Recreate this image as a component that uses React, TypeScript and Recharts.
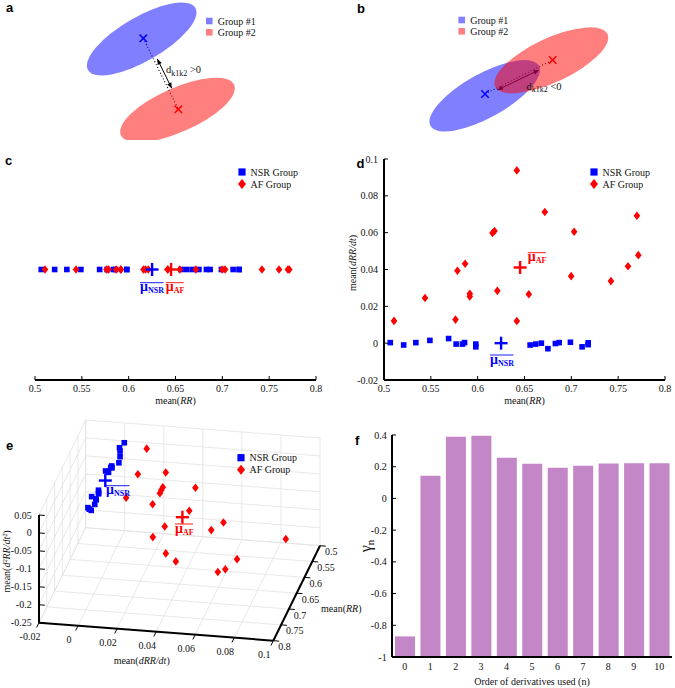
import React from 'react';
import { ScatterChart, Scatter, XAxis, YAxis, ReferenceLine, BarChart, Bar } from 'recharts';

const SERIF = "'Liberation Serif', 'Times New Roman', Times, serif";
const SANS = "'Liberation Sans', Arial, Helvetica, sans-serif";
const BLUE = '#0000ff';
const RED = '#ff0000';
const LBLUE = '#8080ff';
const LRED = '#ff8080';
const BAR_COLOR = '#c386c6';
const AXIS_LINE = { stroke: '#000', strokeWidth: 2 };

// ---------------- data ----------------
const nsrRR = [0.5067, 0.521, 0.534, 0.549, 0.569, 0.577, 0.5837, 0.586, 0.598, 0.598, 0.656, 0.662, 0.668, 0.675, 0.683, 0.687, 0.699, 0.7115, 0.718, 0.718];
const nsrDRR = [0.0003, -0.001, 0.0003, 0.0015, 0.0025, -0.0005, -0.0005, 0.0003, -0.0005, -0.002, -0.001, -0.0005, 0, -0.003, -0.0002, 0.0003, 0.0005, -0.002, -0.0008, 0.0002];
const nsrD2RR = [0.001, -0.001, 0.002, 0.0, 0.001, -0.002, 0.0, 0.001, -0.001, 0.002, 0.0, -0.001, 0.001, -0.002, 0.0, 0.001, -0.001, 0.0, 0.002, -0.001];

const afRR = [0.5107, 0.5438, 0.5763, 0.5784, 0.5866, 0.5916, 0.5916, 0.6158, 0.618, 0.621, 0.6418, 0.6418, 0.6546, 0.6717, 0.6998, 0.703, 0.7423, 0.7605, 0.77, 0.7715];
const afDRR = [0.0121, 0.0245, 0.0128, 0.0393, 0.0431, 0.0268, 0.0253, 0.0598, 0.0609, 0.0284, 0.0938, 0.012, 0.0266, 0.0712, 0.0364, 0.0605, 0.0337, 0.0418, 0.0692, 0.0478];
const afD2RR = [-0.007, -0.039, -0.02, -0.109, -0.036, -0.037, -0.054, -0.1, -0.228, -0.018, -0.109, -0.028, -0.029, -0.148, -0.047, -0.044, -0.04, -0.066, -0.098, -0.076];

const nsrMean = { rr: 0.625, drr: 0, d2rr: 0 };
const afMean = { rr: 0.6453, drr: 0.0411, d2rr: -0.067 };

const derivOrders = ['0', '1', '2', '3', '4', '5', '6', '7', '8', '9', '10'];
const gammaValues = [-0.87, 0.143, 0.389, 0.395, 0.256, 0.218, 0.193, 0.206, 0.221, 0.222, 0.222];
const GAMMA_FLOOR = -1;

const rrTicks = [0.5, 0.55, 0.6, 0.65, 0.7, 0.75, 0.8];
const drrTicks = [-0.02, 0, 0.02, 0.04, 0.06, 0.08, 0.1];
const gammaTicks = [-1, -0.8, -0.6, -0.4, -0.2, 0, 0.2, 0.4];
const eDrrTicks = [-0.02, 0, 0.02, 0.04, 0.06, 0.08, 0.1];
const eRrTicks = [0.5, 0.55, 0.6, 0.65, 0.7, 0.75, 0.8];
const eZTicks = [-0.25, -0.2, -0.15, -0.1, -0.05, 0, 0.05];

// schematic panels a/b (abstract feature-space units)
const ellipsesA = [
  { x: 141.7, y: 39, rx: 62, ry: 22, tilt: 30, group: 1 },
  { x: 177.5, y: 110, rx: 62, ry: 22, tilt: 24, group: 2 },
];
const centersA = [
  { x: 143.3, y: 38.3, group: 1 },
  { x: 178.3, y: 109.3, group: 2 },
];
const distA = [{ x: 157.3, y: 59 }, { x: 171.7, y: 88.3 }];

const ellipsesB = [
  { x: 149.7, y: 95.8, rx: 62, ry: 22, tilt: 29, group: 1 },
  { x: 216.3, y: 60.3, rx: 62, ry: 22, tilt: 25, group: 2 },
];
const centersB = [
  { x: 150, y: 94, group: 1 },
  { x: 217.7, y: 60, group: 2 },
];
const distB = [{ x: 162.3, y: 90 }, { x: 204, y: 70 }];

// ---------------- helpers ----------------
const fmt = (v: any) => (typeof v === 'number' ? String(Math.round(v * 1000) / 1000) : String(v));

const sq = (color: string, s = 5.6) => (p: any) =>
  p.cx == null ? <g /> : <rect x={p.cx - s / 2} y={p.cy - s / 2} width={s} height={s} fill={color} />;
const dia = (color: string, hw = 3.3, hh = 4.3) => (p: any) =>
  p.cx == null ? <g /> : (
    <polygon points={`${p.cx},${p.cy - hh} ${p.cx + hw},${p.cy} ${p.cx},${p.cy + hh} ${p.cx - hw},${p.cy}`} fill={color} />
  );
const plus = (color: string, h = 6.5) => (p: any) =>
  p.cx == null ? <g /> : (
    <g stroke={color} strokeWidth={2.4}>
      <line x1={p.cx - h} x2={p.cx + h} y1={p.cy} y2={p.cy} />
      <line x1={p.cx} x2={p.cx} y1={p.cy - h} y2={p.cy + h} />
    </g>
  );
const xMark = (p: any) => {
  const c = p.payload && p.payload.group === 1 ? BLUE : RED;
  const h = 3.7;
  return (
    <g stroke={c} strokeWidth={1.5}>
      <line x1={p.cx - h} y1={p.cy - h} x2={p.cx + h} y2={p.cy + h} />
      <line x1={p.cx - h} y1={p.cy + h} x2={p.cx + h} y2={p.cy - h} />
    </g>
  );
};
const ellipseShape = (p: any) => {
  const d = p.payload || {};
  const c = d.group === 1 ? BLUE : RED;
  return (
    <ellipse cx={p.cx} cy={p.cy} rx={d.rx} ry={d.ry} fill={c} fillOpacity={0.5}
      transform={`rotate(${-d.tilt} ${p.cx} ${p.cy})`} />
  );
};
const arrowShape = (p: any) => {
  const { x1, y1, x2, y2 } = p;
  const a = Math.atan2(y2 - y1, x2 - x1);
  const L = 5.5, W = 2.3;
  const head = (x: number, y: number, ang: number) => {
    const bx = x - L * Math.cos(ang), by = y - L * Math.sin(ang);
    return `${x},${y} ${bx + W * Math.sin(ang)},${by - W * Math.cos(ang)} ${bx - W * Math.sin(ang)},${by + W * Math.cos(ang)}`;
  };
  return (
    <g>
      <line x1={x1} y1={y1} x2={x2} y2={y2} stroke="#000" strokeWidth={1} />
      <polygon points={head(x2, y2, a)} fill="#000" />
      <polygon points={head(x1, y1, a + Math.PI)} fill="#000" />
    </g>
  );
};

function BottomTick(props: any) {
  const { x, y, payload, up = 4, dy = 12 } = props;
  return (
    <g>
      {up ? <line x1={x} x2={x} y1={y} y2={y - up} stroke="#000" strokeWidth={1} /> : null}
      <text x={x} y={y + dy} textAnchor="middle" fontFamily={SERIF} fontSize={10} fill="#111">{fmt(payload.value)}</text>
    </g>
  );
}
function LeftTick(props: any) {
  const { x, y, payload, gap = 6 } = props;
  return (
    <g>
      <line x1={x} x2={x + 4} y1={y} y2={y} stroke="#000" strokeWidth={1} />
      <text x={x - gap} y={y + 3.5} textAnchor="end" fontFamily={SERIF} fontSize={10} fill="#111">{fmt(payload.value)}</text>
    </g>
  );
}

// ---------------- panel e projection ----------------
const E_DRR_DOMAIN = [-0.02, 0.1];
const E_RR_DOMAIN = [0.8, 0.5];
const E_Z_DOMAIN = [-0.25, 0.05];
const E_O = [39, 222.7];
const E_EX = [234.3, 18];
const E_EY = [46.7, -95];
const E_EZ = [0, -107.7];
const proj = (d: number, r: number, z: number) => {
  const u = (d - E_DRR_DOMAIN[0]) / (E_DRR_DOMAIN[1] - E_DRR_DOMAIN[0]);
  const v = (r - E_RR_DOMAIN[0]) / (E_RR_DOMAIN[1] - E_RR_DOMAIN[0]);
  const w = (z - E_Z_DOMAIN[0]) / (E_Z_DOMAIN[1] - E_Z_DOMAIN[0]);
  return {
    px: E_O[0] + u * E_EX[0] + v * E_EY[0] + w * E_EZ[0],
    py: E_O[1] + u * E_EX[1] + v * E_EY[1] + w * E_EZ[1],
  };
};
const seg3 = (a: number[], b: number[]) => {
  const p = proj(a[0], a[1], a[2]);
  const q = proj(b[0], b[1], b[2]);
  return [{ x: p.px, y: p.py }, { x: q.px, y: q.py }];
};
const [dMin, dMax] = E_DRR_DOMAIN;
const [rFront, rBack] = E_RR_DOMAIN;
const [zMin, zMax] = E_Z_DOMAIN;

const gridSegs = [
  ...eDrrTicks.map((d) => seg3([d, rBack, zMin], [d, rBack, zMax])),
  ...eZTicks.map((z) => seg3([dMin, rBack, z], [dMax, rBack, z])),
  ...eRrTicks.map((r) => seg3([dMin, r, zMin], [dMin, r, zMax])),
  ...eZTicks.map((z) => seg3([dMin, rFront, z], [dMin, rBack, z])),
  ...eDrrTicks.map((d) => seg3([d, rFront, zMin], [d, rBack, zMin])),
  ...eRrTicks.map((r) => seg3([dMin, r, zMin], [dMax, r, zMin])),
];
const axisSegs = [
  seg3([dMin, rFront, zMin], [dMin, rFront, zMax]),
  seg3([dMin, rFront, zMin], [dMax, rFront, zMin]),
  seg3([dMax, rFront, zMin], [dMax, rBack, zMin]),
];
const tickSegs = [
  ...eZTicks.map((z) => seg3([dMin, rFront, z], [dMin + 0.003, rFront, z])),
  ...eDrrTicks.map((d) => seg3([d, rFront, zMin], [d, rFront + 0.015, zMin])),
  ...eRrTicks.map((r) => seg3([dMax, r, zMin], [dMax + 0.003, r, zMin])),
];

const nsrE = nsrRR.map((r, i) => proj(nsrDRR[i], r, nsrD2RR[i]));
const afE = afRR.map((r, i) => proj(afDRR[i], r, afD2RR[i]));
const nsrMeanE = [proj(nsrMean.drr, nsrMean.rr, nsrMean.d2rr)];
const afMeanE = [proj(afMean.drr, afMean.rr, afMean.d2rr)];
const zLab = eZTicks.map((z) => ({ ...proj(dMin, rFront, z), label: fmt(z) }));
const dLab = eDrrTicks.map((d) => ({ ...proj(d, rFront, zMin), label: fmt(d) }));
const rLab = eRrTicks.map((r) => ({ ...proj(dMax, r, zMin), label: fmt(r) }));

const labShape = (dx: number, dy: number, anchor: string) => (p: any) => (
  <text x={p.cx + dx} y={p.cy + dy} textAnchor={anchor} fontFamily={SERIF} fontSize={10} fill="#111">
    {p.payload ? p.payload.label : ''}
  </text>
);

// ---------------- panels ----------------
function Schematic({ ellipses, centers, dist }: any) {
  return (
    <ScatterChart width={340} height={140} margin={{ top: 0, right: 0, bottom: 0, left: 0 }}>
      <XAxis type="number" dataKey="x" domain={[0, 340]} hide />
      <YAxis type="number" dataKey="y" domain={[0, 140]} reversed hide />
      <Scatter data={ellipses} shape={ellipseShape} isAnimationActive={false} />
      <ReferenceLine segment={[{ x: centers[0].x, y: centers[0].y }, { x: centers[1].x, y: centers[1].y }]}
        stroke="#000" strokeWidth={1.1} strokeDasharray="1 2.2" ifOverflow="visible" />
      <ReferenceLine segment={dist} shape={arrowShape} ifOverflow="visible" />
      <Scatter data={centers} shape={xMark} isAnimationActive={false} />
    </ScatterChart>
  );
}

function PanelC() {
  const nsr = nsrRR.map((x) => ({ x, y: 0 }));
  const af = afRR.map((x) => ({ x, y: 0 }));
  return (
    <ScatterChart width={340} height={270} margin={{ top: 19, right: 24, bottom: 0, left: 35 }}>
      <XAxis type="number" dataKey="x" domain={[0.5, 0.8]} ticks={rrTicks} interval={0} height={30}
        axisLine={AXIS_LINE} tickLine={false} tickSize={0} tickMargin={0} tick={(p: any) => <BottomTick {...p} />} />
      <YAxis type="number" dataKey="y" domain={[-1, 1]} hide />
      <Scatter data={nsr} shape={sq(BLUE)} isAnimationActive={false} />
      <Scatter data={af} shape={dia(RED)} isAnimationActive={false} />
      <Scatter data={[{ x: nsrMean.rr, y: 0 }]} shape={plus(BLUE)} isAnimationActive={false} />
      <Scatter data={[{ x: afMean.rr, y: 0 }]} shape={plus(RED)} isAnimationActive={false} />
    </ScatterChart>
  );
}

function PanelD() {
  const nsr = nsrRR.map((x, i) => ({ x, y: nsrDRR[i] }));
  const af = afRR.map((x, i) => ({ x, y: afDRR[i] }));
  return (
    <ScatterChart width={340} height={270} margin={{ top: 19, right: 10, bottom: 0, left: 0 }}>
      <XAxis type="number" dataKey="x" domain={[0.5, 0.8]} ticks={rrTicks} interval={0} height={30}
        axisLine={AXIS_LINE} tickLine={false} tickSize={0} tickMargin={0} tick={(p: any) => <BottomTick {...p} />} />
      <YAxis type="number" dataKey="y" domain={[-0.02, 0.1]} ticks={drrTicks} interval={0} width={49}
        axisLine={AXIS_LINE} tickLine={false} tickSize={0} tickMargin={0} tick={(p: any) => <LeftTick {...p} />} />
      <Scatter data={nsr} shape={sq(BLUE)} isAnimationActive={false} />
      <Scatter data={af} shape={dia(RED)} isAnimationActive={false} />
      <Scatter data={[{ x: nsrMean.rr, y: nsrMean.drr }]} shape={plus(BLUE)} isAnimationActive={false} />
      <Scatter data={[{ x: afMean.rr, y: afMean.drr }]} shape={plus(RED)} isAnimationActive={false} />
    </ScatterChart>
  );
}

function PanelE() {
  return (
    <ScatterChart width={360} height={288} margin={{ top: 0, right: 0, bottom: 0, left: 0 }}>
      <XAxis type="number" dataKey="px" domain={[0, 360]} hide />
      <YAxis type="number" dataKey="py" domain={[0, 288]} reversed hide />
      {gridSegs.map((s, i) => (
        <ReferenceLine key={'g' + i} segment={s} stroke="#e2e2e2" strokeWidth={0.8} ifOverflow="visible" />
      ))}
      {axisSegs.map((s, i) => (
        <ReferenceLine key={'a' + i} segment={s} stroke="#000" strokeWidth={2} ifOverflow="visible" />
      ))}
      {tickSegs.map((s, i) => (
        <ReferenceLine key={'t' + i} segment={s} stroke="#000" strokeWidth={1} ifOverflow="visible" />
      ))}
      <Scatter data={nsrE} shape={sq(BLUE)} isAnimationActive={false} />
      <Scatter data={afE} shape={dia(RED)} isAnimationActive={false} />
      <Scatter data={nsrMeanE} shape={plus(BLUE)} isAnimationActive={false} />
      <Scatter data={afMeanE} shape={plus(RED)} isAnimationActive={false} />
      <Scatter data={zLab} shape={labShape(-7.3, 3.5, 'end')} isAnimationActive={false} />
      <Scatter data={dLab} shape={labShape(-9, 17.3, 'middle')} isAnimationActive={false} />
      <Scatter data={rLab} shape={labShape(5, 9.5, 'start')} isAnimationActive={false} />
    </ScatterChart>
  );
}

function PanelF() {
  const data = derivOrders.map((n, i) => ({ n, gamma: gammaValues[i] }));
  return (
    <BarChart width={340} height={288} data={data} margin={{ top: 35, right: 3, bottom: 0, left: 0 }} barSize={20}>
      <XAxis dataKey="n" type="category" height={31} interval={0} axisLine={AXIS_LINE} tickLine={false}
        tickSize={0} tickMargin={0} tick={(p: any) => <BottomTick {...p} up={0} dy={13} />} />
      <YAxis type="number" domain={[-1, 0.4]} ticks={gammaTicks} interval={0} width={57} allowDataOverflow
        axisLine={AXIS_LINE} tickLine={false} tickSize={0} tickMargin={0} tick={(p: any) => <LeftTick {...p} gap={5.3} />} />
      <Bar dataKey={(d: any) => [GAMMA_FLOOR, d.gamma]} fill={BAR_COLOR} isAnimationActive={false} />
    </BarChart>
  );
}

// ---------------- annotation overlay ----------------
function MuLabel({ x, y, sub, color }: any) {
  const w = sub === 'NSR' ? 23.5 : 18;
  return (
    <g>
      <line x1={x} x2={x + w} y1={y} y2={y} stroke={color} strokeWidth={0.9} />
      <text x={x} y={y + 8.6} fontFamily={SERIF} fontSize={14} fontWeight="bold" fill={color}>
        μ<tspan fontSize={8} dy={2}>{sub}</tspan>
      </text>
    </g>
  );
}
function GroupLegend({ x, y, text1, text2, light }: any) {
  return (
    <g fontFamily={SERIF} fontSize={10} fill="#111">
      {light ? (
        <>
          <rect x={x - 3.3} y={y - 3.3} width={6.6} height={6.6} fill={LBLUE} />
          <rect x={x - 3.3} y={y + 11.3 - 3.3} width={6.6} height={6.6} fill={LRED} />
        </>
      ) : (
        <>
          <rect x={x - 3.6} y={y - 3.6} width={7.2} height={7.2} fill={BLUE} />
          <polygon points={`${x},${y + 12 - 5} ${x + 4},${y + 12} ${x},${y + 12 + 5} ${x - 4},${y + 12}`} fill={RED} />
        </>
      )}
      <text x={x + 8.5} y={y + 3.5}>{text1}</text>
      <text x={x + 8.5} y={y + (light ? 11.3 : 12) + 3.5}>{text2}</text>
    </g>
  );
}
const letter = (ch: string, x: number, y: number) => (
  <text x={x} y={y} fontFamily={SANS} fontWeight="bold" fontSize={13} fill="#000">{ch}</text>
);

function Overlay() {
  return (
    <svg width={675} height={688} style={{ position: 'absolute', left: 0, top: 0, pointerEvents: 'none' }}>
      {letter('a', 6, 11.5)}
      {letter('b', 357, 12.7)}
      {letter('c', 5, 165)}
      {letter('d', 356.5, 167.5)}
      {letter('e', 6, 450)}
      {letter('f', 355, 445)}

      <GroupLegend x={209.3} y={21} text1="Group #1" text2="Group #2" light />
      <GroupLegend x={461.7} y={20} text1="Group #1" text2="Group #2" light />
      <GroupLegend x={242} y={172} text1="NSR Group" text2="AF Group" />
      <GroupLegend x={594} y={172} text1="NSR Group" text2="AF Group" />
      <GroupLegend x={241} y={457.7} text1="NSR Group" text2="AF Group" />

      <text x={166} y={73} fontFamily={SERIF} fontSize={10.5} fill="#111">
        d<tspan fontSize={8} dy={2.5}>k1k2</tspan><tspan fontSize={10.5} dy={-2.5}> &gt;0</tspan>
      </text>
      <text x={526.5} y={89.5} fontFamily={SERIF} fontSize={10.5} fill="#111">
        d<tspan fontSize={8} dy={2.5}>k1k2</tspan><tspan fontSize={10.5} dy={-2.5}> &lt;0</tspan>
      </text>

      <MuLabel x={140} y={282.7} sub="NSR" color={BLUE} />
      <MuLabel x={165.7} y={282.7} sub="AF" color={RED} />
      <MuLabel x={490} y={355} sub="NSR" color={BLUE} />
      <MuLabel x={527.7} y={252.7} sub="AF" color={RED} />
      <MuLabel x={106} y={485.7} sub="NSR" color={BLUE} />
      <MuLabel x={175} y={524} sub="AF" color={RED} />

      <g fontFamily={SERIF} fontSize={10} fill="#111">
        <text x={175.5} y={404} textAnchor="middle">mean(<tspan fontStyle="italic">RR</tspan>)</text>
        <text x={524.5} y={404} textAnchor="middle">mean(<tspan fontStyle="italic">RR</tspan>)</text>
        <text x={355.5} y={263} textAnchor="middle" transform="rotate(-90 355.5 263)">
          mean(<tspan fontStyle="italic">dRR/dt</tspan>)
        </text>
        <text x={141.7} y={663.5} textAnchor="middle">mean(<tspan fontStyle="italic">dRR/dt</tspan>)</text>
        <text x={321} y={611.5}>mean(<tspan fontStyle="italic">RR</tspan>)</text>
        <text x={10} y={561.5} textAnchor="middle" transform="rotate(-90 10 561.5)">
          mean(<tspan fontStyle="italic">d²RR/dt²</tspan>)
        </text>
        <text x={532} y={684.5} textAnchor="middle">Order of derivatives used (n)</text>
      </g>
      <text x={370.5} y={546} textAnchor="middle" transform="rotate(-90 370.5 546)" fontFamily={SERIF} fontSize={16} fill="#111">
        γ<tspan fontSize={11} dy={3}>n</tspan>
      </text>
    </svg>
  );
}

export default function App() {
  return (
    <div style={{ position: 'absolute', left: 0, top: 0, width: 675, height: 688, background: '#fff', overflow: 'hidden' }}>
      <div style={{ position: 'absolute', left: 0, top: 0 }}>
        <Schematic ellipses={ellipsesA} centers={centersA} dist={distA} />
      </div>
      <div style={{ position: 'absolute', left: 335, top: 0 }}>
        <Schematic ellipses={ellipsesB} centers={centersB} dist={distB} />
      </div>
      <div style={{ position: 'absolute', left: 0, top: 140 }}>
        <PanelC />
      </div>
      <div style={{ position: 'absolute', left: 335, top: 140 }}>
        <PanelD />
      </div>
      <div style={{ position: 'absolute', left: 0, top: 400 }}>
        <PanelE />
      </div>
      <div style={{ position: 'absolute', left: 335, top: 400 }}>
        <PanelF />
      </div>
      <Overlay />
    </div>
  );
}
